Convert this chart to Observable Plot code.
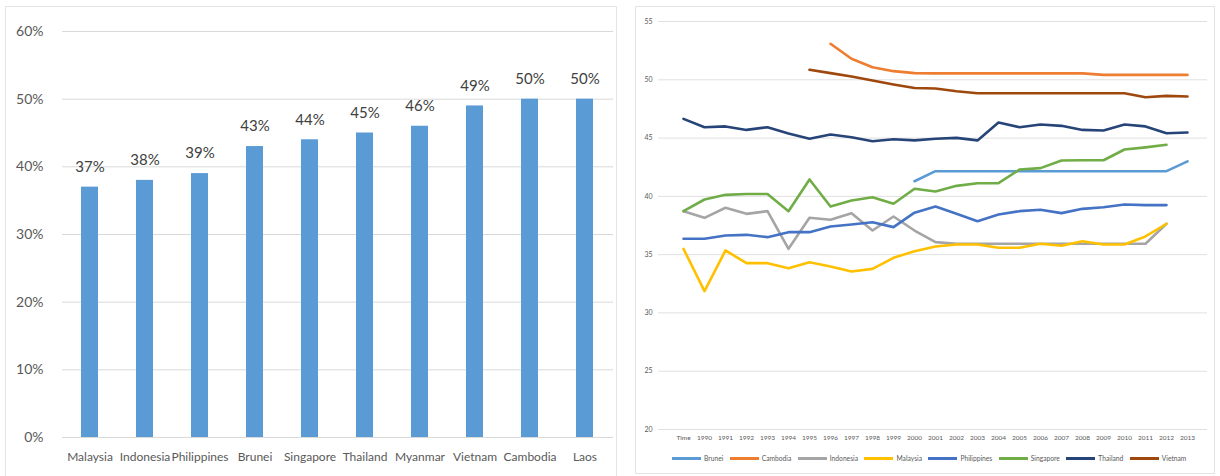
<!DOCTYPE html>
<html><head><meta charset="utf-8">
<script src="https://cdn.jsdelivr.net/npm/d3@7"></script>
<script src="https://cdn.jsdelivr.net/npm/@observablehq/plot@0.6"></script>
<style>
body{margin:0;background:#fff;font-family:Lato,"Open Sans",sans-serif;}
#wrap{position:relative;width:1220px;height:476px;overflow:hidden;background:#fff}
#left,#right{position:absolute;top:0}
#left{left:0}
#right{left:636px}
.frame{position:absolute;border:1px solid #e4e4e4;box-sizing:border-box}
#legend{position:absolute;top:454px;left:672px;display:flex;align-items:center;font-size:6.7px;color:#595959;white-space:nowrap}
#legend .it{display:flex;align-items:center;margin-right:6.5px}
#legend .sw{display:inline-block;width:29px;height:3px;margin-right:3px}
</style></head>
<body>
<div id="wrap">
  <div class="frame" style="left:5px;top:6px;width:612px;height:480px"></div>
  <div class="frame" style="left:635px;top:6px;width:580px;height:468px"></div>
  <div id="left"></div>
  <div id="right"></div>
  <div id="legend"></div>
</div>
<script>
// ---- Left chart data ----
const barCountries = ["Malaysia","Indonesia","Philippines","Brunei","Singapore","Thailand","Myanmar","Vietnam","Cambodia","Laos"];
const barValues = [0.37,0.38,0.39,0.43,0.44,0.45,0.46,0.49,0.50,0.50];
const barTicks = [0,0.1,0.2,0.3,0.4,0.5,0.6];

// ---- Right chart data ----
const periods = ["Time","1990","1991","1992","1993","1994","1995","1996","1997","1998","1999","2000","2001","2002","2003","2004","2005","2006","2007","2008","2009","2010","2011","2012","2013"];
const lineTicks = [20,25,30,35,40,45,50,55];
const seriesNames = ["Brunei","Cambodia","Indonesia","Malaysia","Philippines","Singapore","Thailand","Vietnam"];
const seriesColors = ["#5B9BD5","#ED7D31","#A5A5A5","#FFC000","#4472C4","#70AD47","#264478","#9E480E"];
const brunei = [null,null,null,null,null,null,null,null,null,null,null,41.3,42.16,42.16,42.16,42.16,42.16,42.16,42.16,42.16,42.16,42.16,42.16,42.16,43.0];
const cambodia = [null,null,null,null,null,null,null,53.09,51.8,51.08,50.74,50.57,50.55,50.55,50.55,50.55,50.55,50.55,50.55,50.55,50.42,50.42,50.42,50.42,50.42];
const indonesia = [38.73,38.16,39.02,38.5,38.73,35.5,38.16,37.99,38.56,37.07,38.27,37.07,36.07,35.93,35.93,35.93,35.93,35.93,35.93,35.93,35.93,35.93,35.93,37.65,null];
const malaysia = [35.5,31.87,35.36,34.27,34.27,33.84,34.35,33.98,33.55,33.78,34.73,35.3,35.7,35.87,35.87,35.59,35.59,35.93,35.76,36.15,35.87,35.87,36.56,37.65,null];
const philippines = [36.36,36.36,36.64,36.7,36.5,36.93,36.93,37.41,37.59,37.78,37.36,38.6,39.13,38.5,37.87,38.44,38.73,38.85,38.56,38.93,39.07,39.3,39.25,39.25,null];
const singapore = [38.73,39.73,40.13,40.2,40.2,38.73,41.45,39.13,39.64,39.93,39.36,40.65,40.42,40.9,41.13,41.13,42.3,42.42,43.08,43.1,43.1,44.02,44.2,44.42,null];
const thailand = [46.65,45.93,46.0,45.7,45.93,45.4,44.94,45.3,45.07,44.73,44.9,44.8,44.94,45.02,44.8,46.34,45.93,46.16,46.05,45.7,45.65,46.16,46.0,45.42,45.48];
const vietnam = [null,null,null,null,null,null,50.86,50.57,50.28,49.94,49.6,49.3,49.25,49.02,48.85,48.85,48.85,48.85,48.85,48.85,48.85,48.85,48.5,48.62,48.57];
const seriesValues = [brunei,cambodia,indonesia,malaysia,philippines,singapore,thailand,vietnam];

// ---- Left bar chart ----
const bars = barCountries.map((c,i)=>({country:c,value:barValues[i]}));
const left = Plot.plot({
  width:615, height:476,
  marginLeft:62, marginRight:2, marginTop:31, marginBottom:39,
  style:{fontFamily:"Lato, 'Open Sans', sans-serif", background:"transparent", overflow:"visible"},
  x:{domain:barCountries, range:[59,615], paddingInner:0.685, paddingOuter:0.3425},
  y:{domain:[0,0.6]},
  marks:[
    Plot.gridY(barTicks,{stroke:"#d9d9d9", strokeOpacity:1}),
    Plot.axisY(barTicks,{tickSize:0, tickPadding:19, fontSize:14, fill:"#595959", tickFormat:d3.format(".0%"), label:null}),
    Plot.axisX({tickSize:0, tickPadding:15, fontSize:12, fill:"#595959", label:null}),
    Plot.barY(bars,{x:"country", y:"value", fill:"#5B9BD5"}),
    Plot.text(bars,{x:"country", y:"value", text:d=>d3.format(".0%")(d.value), dy:-20, fontSize:15, fill:"#404040"})
  ]
});
document.getElementById("left").appendChild(left);

// ---- Right line chart ----
const rows = [];
seriesNames.forEach((s,si)=>{
  periods.forEach((p,pi)=>{
    rows.push({series:s, period:p, value:seriesValues[si][pi]});
  });
});
const right = Plot.plot({
  width:584, height:476,
  marginLeft:22, marginRight:13, marginTop:21, marginBottom:47,
  style:{fontFamily:"Lato, 'Open Sans', sans-serif", background:"transparent", overflow:"visible"},
  x:{type:"point", domain:periods, range:[36,562], padding:0},
  y:{domain:[20,55]},
  color:{domain:seriesNames, range:seriesColors},
  marks:[
    Plot.gridY(lineTicks,{stroke:"#e0e0e0", strokeOpacity:1}),
    Plot.axisY(lineTicks,{tickSize:0, tickPadding:6, fontSize:7, fill:"#595959", label:null}),
    Plot.axisX({tickSize:0, tickPadding:6, fontSize:6.5, fill:"#595959", label:null}),
    Plot.line(rows,{x:"period", y:"value", z:"series", stroke:"series", strokeWidth:2.6, strokeLinejoin:"round", strokeLinecap:"round"})
  ]
});
document.getElementById("right").appendChild(right);

// ---- Legend ----
const lg = document.getElementById("legend");
seriesNames.forEach((s,i)=>{
  const it = document.createElement("span"); it.className="it";
  const sw = document.createElement("span"); sw.className="sw"; sw.style.background=seriesColors[i];
  const tx = document.createElement("span"); tx.textContent=s;
  it.appendChild(sw); it.appendChild(tx); lg.appendChild(it);
});
</script>
</body></html>
